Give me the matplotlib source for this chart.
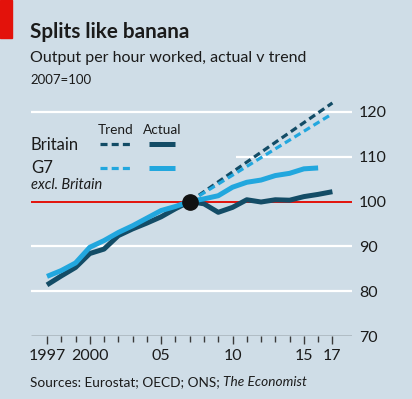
import numpy as np
import matplotlib
matplotlib.use("Agg")
import matplotlib.pyplot as plt
from matplotlib.patches import Rectangle

# data, 2007=100
years = list(range(1997, 2018))
britain = [81.4, 83.4, 85.3, 88.4, 89.4, 92.4, 93.9, 95.2, 96.6, 98.4, 100.0,
           99.5, 97.6, 98.7, 100.4, 99.9, 100.4, 100.3, 101.1, 101.6, 102.2]
g7_years = list(range(1997, 2017))
g7 = [83.3, 84.6, 86.3, 89.8, 91.3, 93.1, 94.6, 96.3, 98.0, 98.9, 100.0,
      100.6, 101.3, 103.2, 104.3, 104.8, 105.8, 106.3, 107.3, 107.5]
trend_years = [2007, 2017]
britain_trend = [100, 122.0]
g7_trend = [100, 119.6]

yticks = [70, 80, 90, 100, 110, 120]
xtick_pos = [1997, 2000, 2005, 2010, 2015, 2017]
xtick_lab = ["1997", "2000", "05", "10", "15", "17"]

bg = "#cfdde7"
dark = "#134c66"
light = "#22a7de"
red = "#e3120b"
txt = "#1b1b1b"

plt.rcParams['font.family'] = ['Lato', 'DejaVu Sans']

fig = plt.figure(figsize=(4.12, 3.99), dpi=100, facecolor=bg)
W, H = 412, 399
ax = fig.add_axes([31 / W, (H - 336) / H, (352 - 31) / W, (336 - 94) / H])
ax.set_facecolor(bg)

x0 = 1997 + (31 - 47) / 14.27
x1 = 1997 + (352 - 47) / 14.27
ax.set_xlim(x0, x1)
ax.set_ylim(70, 124)

# gridlines
for v in [80, 90, 120]:
    ax.hlines(v, x0, x1, color="white", lw=1.6, zorder=1)
ax.hlines(110, 1997 + (236 - 47) / 14.27, x1, color="white", lw=1.6, zorder=1)
ax.hlines(100, x0, x1, color=red, lw=1.4, zorder=2)
ax.hlines(70, x0, x1, color="#3a3a3a", lw=1.0, zorder=2)

ax.plot(trend_years, britain_trend, color=dark, lw=2.3, dashes=(2.2, 1.3), zorder=3)
ax.plot(trend_years, g7_trend, color=light, lw=2.3, dashes=(2.2, 1.3), zorder=3)
ax.plot(years, britain, color=dark, lw=3.6, solid_capstyle="butt", zorder=4)
ax.plot(g7_years, g7, color=light, lw=3.6, solid_capstyle="butt", zorder=5)
ax.plot([2007], [100], "o", color="#111111", ms=11, zorder=6)

for s in ax.spines.values():
    s.set_visible(False)

ax.yaxis.tick_right()
ax.set_yticks(yticks)
ax.tick_params(axis="y", length=0, pad=5, labelsize=11.5, labelcolor=txt)
ax.set_xticks(xtick_pos)
ax.set_xticklabels(xtick_lab)
ax.set_xticks(years, minor=True)
ax.tick_params(axis="x", which="major", length=6, width=1, color="#3a3a3a",
               pad=3, labelsize=11.5, labelcolor=txt)
ax.tick_params(axis="x", which="minor", length=4, width=1, color="#3a3a3a")

# legend drawn by hand
fig.text(98 / W, 1 - 130 / H, "Trend", fontsize=9.8, color=txt, va="center")
fig.text(143 / W, 1 - 130 / H, "Actual", fontsize=9.8, color=txt, va="center")
fig.text(31 / W, 1 - 145 / H, "Britain", fontsize=12, color=txt, va="center")
fig.text(31 / W, 1 - 168 / H, "G7", fontsize=12, color=txt, va="center")
fig.text(31 / W, 1 - 185 / H, "excl. Britain", fontsize=10.5, style="italic",
         color=txt, va="center")
fig.add_artist(plt.Line2D([100 / W, 131 / W], [1 - 144 / H] * 2, color=dark,
                          lw=2.3, dashes=(2.2, 1.3)))
fig.add_artist(plt.Line2D([100 / W, 131 / W], [1 - 168 / H] * 2, color=light,
                          lw=2.3, dashes=(2.2, 1.3)))
fig.add_artist(plt.Line2D([149 / W, 175 / W], [1 - 144 / H] * 2, color=dark,
                          lw=3.6, solid_capstyle="butt"))
fig.add_artist(plt.Line2D([149 / W, 175 / W], [1 - 168 / H] * 2, color=light,
                          lw=3.6, solid_capstyle="butt"))

# titles
fig.add_artist(Rectangle((0, 1 - 38 / H), 12 / W, 38 / H, color=red,
                         transform=fig.transFigure))
fig.text(30 / W, 1 - 32 / H, "Splits like banana", fontsize=14.9, weight="bold",
         color=txt, va="center")
fig.text(30 / W, 1 - 58 / H, "Output per hour worked, actual v trend",
         fontsize=11.5, color=txt, va="center")
fig.text(30 / W, 1 - 80 / H, "2007=100", fontsize=9.5, color=txt, va="center")

src = fig.text(30 / W, 1 - 382 / H, "Sources: Eurostat; OECD; ONS; ",
               fontsize=9.8, color=txt, va="center")
fig.canvas.draw()
bb = src.get_window_extent()
fig.text(bb.x1 / W, 1 - 382 / H, "The Economist", fontsize=9.8, style="italic",
         color=txt, va="center")

fig.savefig("out.png", dpi=100, facecolor=bg)
